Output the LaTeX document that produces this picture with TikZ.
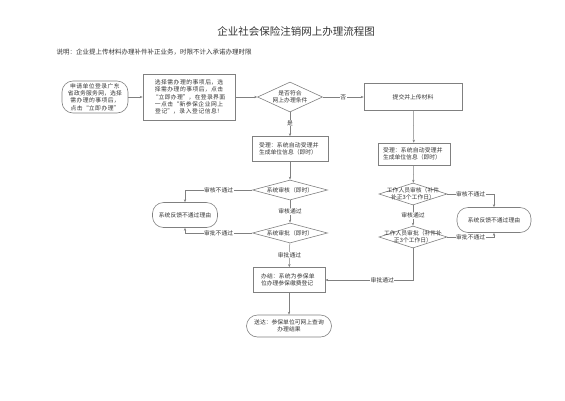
\documentclass[tikz,border=0pt]{standalone}
\usepackage{fontspec}
\setmainfont{Noto Sans CJK SC}
\XeTeXlinebreaklocale "zh"
\XeTeXlinebreakskip = 0pt plus 1pt
\usetikzlibrary{shapes.geometric,arrows.meta}
\begin{document}
\begin{tikzpicture}[x=1pt,y=-1pt,
  every node/.style={font=\fontsize{5.8}{7.3}\selectfont, text=black!80},
  ln/.style={draw=black!50, line width=0.5pt},
  arr/.style={ln, -{Stealth[length=3pt,width=2.4pt]}},
  boxn/.style={draw=black!50, line width=0.6pt, rectangle, align=center, inner sep=1pt},
  term/.style={draw=black!50, line width=0.6pt, rectangle, rounded corners=11pt, align=center, inner sep=1pt},
  dia/.style={draw=black!50, line width=0.6pt, diamond, inner sep=0pt},
  lbl/.style={fill=white, inner sep=0.5pt},
]
\useasboundingbox (0,0) rectangle (565,400);
\node (title) at (296,31) {\fontsize{10.5}{12}\selectfont 企业社会保险注销网上办理流程图};
\node[anchor=west, font=\fontsize{6.5}{8}\selectfont] (note) at (53,52) {说明：企业提上传材料办理补件补正业务，时限不计入承诺办理时限};

\node[term, minimum width=66pt, minimum height=32pt, text width=60pt] (start) at (95,97)
  {申请单位登录广东省政务服务网，选择需办理的事项后，点击“立即办理”};
\node[boxn, minimum width=92pt, minimum height=46pt, text width=80pt] (sel) at (189,97)
  {选择需办理的事项后，选择需办理的事项后，点击“立即办理”，在登录界面一点击“新参保企业网上登记”，录入登记信息！};
\node[dia, minimum width=65pt, minimum height=30pt, label={[align=center]center:是否符合\\网上办理条件}] (d1) at (290,97) {};
\node[boxn, minimum width=98pt, minimum height=27pt] (up) at (413,97) {提交并上传材料};

\node[boxn, minimum width=76pt, minimum height=25pt, text width=62pt, align=left] (acc1) at (290,149)
  {受理：系统自动受理并生成单位信息（即时）};
\node[boxn, minimum width=72pt, minimum height=22pt, text width=62pt, align=left] (acc2) at (414,154)
  {受理：系统自动受理并生成单位信息（即时）};

\node[dia, minimum width=75pt, minimum height=20pt, label={center:系统审核（即时）}] (d2) at (290,190) {};
\node[dia, minimum width=75pt, minimum height=20pt, label={center:系统审批（即时）}] (d3) at (290,233) {};
\node[term, minimum width=65pt, minimum height=25pt] (t1) at (185,215) {系统反馈不通过理由};

\node[dia, minimum width=68pt, minimum height=22pt, label={[align=center]center:工作人员审核（补件\\补正3个工作日）}] (rd1) at (413,194) {};
\node[dia, minimum width=68pt, minimum height=22pt, label={[align=center]center:工作人员审批（补件补\\正3个工作日）}] (rd2) at (413,237) {};
\node[term, minimum width=74pt, minimum height=25pt] (t2) at (494,220) {系统反馈不通过理由};

\node[boxn, minimum width=72pt, minimum height=25pt, text width=56pt, align=left] (done) at (289,280)
  {办结：系统为参保单位办理参保缴费登记};
\node[term, minimum width=85pt, minimum height=22pt, align=center] (end) at (289,326)
  {送达：参保单位可网上查询\\办理结果};

\draw[arr] (start) -- (sel);
\draw[arr] (sel) -- (d1);
\draw[arr] (d1) -- node[lbl]{否} (up);
\draw[arr] (d1) -- node[lbl, pos=0.45]{是} (acc1);
\draw[arr] (up) -- (acc2);
\draw[arr] (acc1) -- (d2);
\draw[arr] (d2.west) -- node[lbl]{审核不通过} (d2.west -| t1) -- (t1.north);
\draw[arr] (d2) -- node[lbl]{审核通过} (d3);
\draw[arr] (d3.west) -- node[lbl]{审批不通过} (d3.west -| t1) -- (t1.south);
\draw[arr] (d3) -- node[lbl, pos=0.5]{审批通过} (done);
\draw[arr] (acc2) -- (rd1);
\draw[arr] (rd1.east) -- node[lbl]{审核不通过} (rd1.east -| t2) -- (t2.north);
\draw[arr] (rd1) -- node[lbl]{审核通过} (rd2);
\draw[arr] (rd2.east) -- node[lbl]{审批不通过} (rd2.east -| t2) -- (t2.south);
\draw[arr] (rd2.south) -- (rd2.south |- done.east) -- node[lbl, pos=0.35]{审批通过} (done.east);
\draw[arr] (done) -- (end);
\end{tikzpicture}
\end{document}
